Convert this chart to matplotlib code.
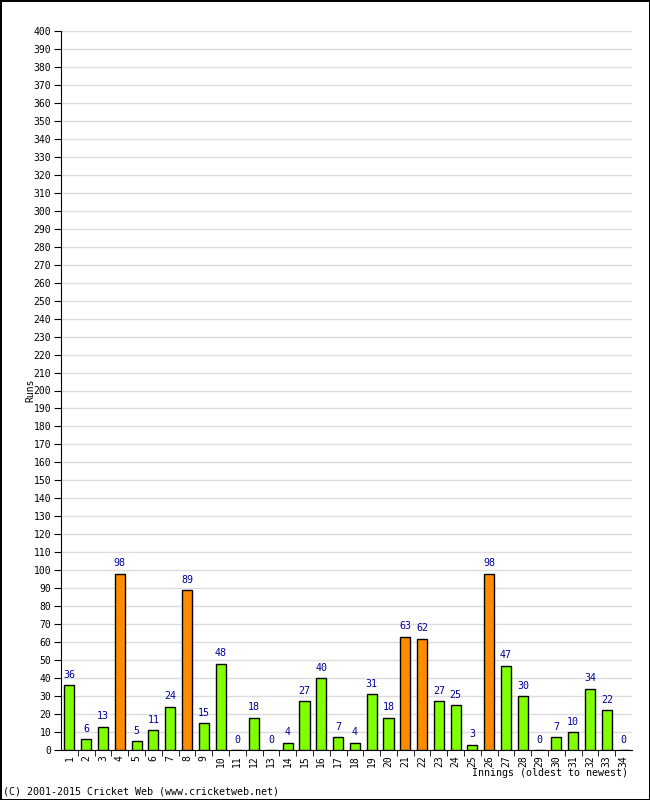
import numpy as np
import matplotlib
matplotlib.use("Agg")
import matplotlib.pyplot as plt

# innings scores, oldest to newest
innings = list(range(1, 35))
runs = [36, 6, 13, 98, 5, 11, 24, 89, 15, 48, 0, 18, 0, 4, 27, 40, 7, 4, 31, 18,
        63, 62, 27, 25, 3, 98, 47, 30, 0, 7, 10, 34, 22, 0]
y_ticks = list(range(0, 401, 10))

GREEN = "#80ff00"
ORANGE = "#ff8c00"
LABEL_BLUE = "#000099"

plt.rcParams['font.family'] = ['DejaVu Sans Mono']

fig = plt.figure(figsize=(6.5, 8), dpi=100)
fig.patch.set_edgecolor("black")
fig.patch.set_linewidth(2)
ax = fig.add_axes([61/650, 50/800, 571/650, 719/800])

colors = [ORANGE if r >= 50 else GREEN for r in runs]
bars = ax.bar(innings, runs, width=0.6, color=colors, edgecolor="black", linewidth=1, zorder=3)
for x, r in zip(innings, runs):
    ax.text(x, r + 3, str(r), ha="center", va="bottom", fontsize=7.2, color=LABEL_BLUE)

ax.set_xlim(0.5, 34.5)
ax.set_ylim(0, 400)
ax.set_yticks(y_ticks)
ax.set_yticklabels([str(v) for v in y_ticks], fontsize=7)
ax.set_xticks(innings)
ax.set_xticklabels([str(i) for i in innings], rotation=90, fontsize=7)
ax.tick_params(axis="x", length=0, pad=4)
ax.set_xticks(np.arange(1.5, 34.5, 1), minor=True)
ax.tick_params(axis="x", which="minor", length=4, direction="out")
ax.tick_params(axis="y", length=5, direction="out", pad=2)
ax.yaxis.grid(True, color="#dddddd", linewidth=1, zorder=0)
ax.set_axisbelow(True)
for s in ["top", "right"]:
    ax.spines[s].set_visible(False)

fig.text(30/650, 1 - 390/800, "Runs", rotation=90, ha="center", va="center", fontsize=7)
fig.text(628/650, 1 - 773/800, "Innings (oldest to newest)", ha="right", va="center", fontsize=7.2)
fig.text(3/650, 1 - 791/800, "(C) 2001-2015 Cricket Web (www.cricketweb.net)", ha="left", va="center", fontsize=7.2)

fig.savefig("out.png", dpi=100, edgecolor=fig.get_edgecolor())
